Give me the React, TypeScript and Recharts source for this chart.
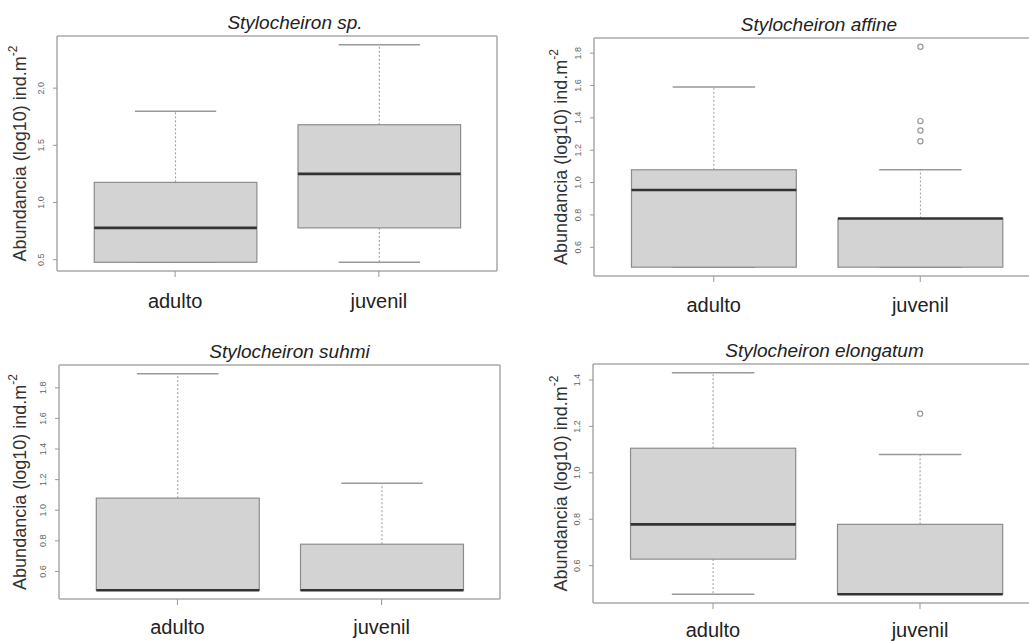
import { ComposedChart, Bar, XAxis, YAxis } from 'recharts';

const groups = ['adulto', 'juvenil'];

// [min, q1, median, q3, max] per group (log10 ind.m-2)
const spAdulto = [0.477, 0.477, 0.778, 1.176, 1.799];
const spJuvenil = [0.477, 0.778, 1.25, 1.68, 2.38];
const affineAdulto = [0.477, 0.477, 0.954, 1.079, 1.591];
const affineJuvenil = [0.477, 0.477, 0.778, 0.778, 1.079];
const affineJuvenilOut = [1.839, 1.38, 1.322, 1.255];
const suhmiAdulto = [0.477, 0.477, 0.477, 1.079, 1.892];
const suhmiJuvenil = [0.477, 0.477, 0.477, 0.778, 1.176];
const elongAdulto = [0.477, 0.628, 0.778, 1.106, 1.431];
const elongJuvenil = [0.477, 0.477, 0.477, 0.778, 1.079];
const elongJuvenilOut = [1.255];

const spTicks = [0.5, 1.0, 1.5, 2.0];
const affineTicks = [0.6, 0.8, 1.0, 1.2, 1.4, 1.6, 1.8];
const suhmiTicks = [0.6, 0.8, 1.0, 1.2, 1.4, 1.6, 1.8];
const elongTicks = [0.6, 0.8, 1.0, 1.2, 1.4];

const FONT = '"Liberation Sans", Arial, sans-serif';
const FRAME = '#a9a9a9';

function BoxShape(props: any) {
  const { x, y, width, height, payload } = props;
  const [mn, q1, md, q3, mx] = payload.stats;
  const k = height / (mx - mn);
  const py = (v: number) => y + (mx - v) * k;
  const cx = x + width / 2;
  const cap = width / 4;
  return (
    <g>
      <line x1={cx} x2={cx} y1={py(q3)} y2={py(mx)} stroke="#999" strokeDasharray="2 2" />
      <line x1={cx} x2={cx} y1={py(q1)} y2={py(mn)} stroke="#999" strokeDasharray="2 2" />
      <line x1={cx - cap} x2={cx + cap} y1={py(mx)} y2={py(mx)} stroke="#999" strokeWidth={1.5} />
      <line x1={cx - cap} x2={cx + cap} y1={py(mn)} y2={py(mn)} stroke="#999" strokeWidth={1.5} />
      <rect x={x} y={py(q3)} width={width} height={py(q1) - py(q3)} fill="#d3d3d3" stroke="#8c8c8c" strokeWidth={1.2} />
      <line x1={x} x2={x + width} y1={py(md)} y2={py(md)} stroke="#333" strokeWidth={2.6} />
      {payload.out.map((v: number, i: number) => (
        <circle key={i} cx={cx} cy={py(v)} r={2.6} fill="none" stroke="#999" strokeWidth={1.2} />
      ))}
    </g>
  );
}

function YTick({ x, y, payload }: any) {
  return (
    <text x={x} y={y} transform={`rotate(-90 ${x} ${y})`} textAnchor="middle" fontSize={9} fill="#666" fontFamily={FONT}>
      {Number(payload.value).toFixed(1)}
    </text>
  );
}

function XTick({ x, y, payload, catDy }: any) {
  return (
    <text x={x} y={y - 6 + catDy} textAnchor="middle" fontSize={20} fill="#222" fontFamily={FONT}>
      {payload.value}
    </text>
  );
}

function YTitle({ viewBox, labelX }: any) {
  const cy = viewBox.y + viewBox.height / 2;
  return (
    <text x={labelX} y={cy} transform={`rotate(-90 ${labelX} ${cy})`} textAnchor="middle" dominantBaseline="central" fontSize={18} fill="#333" fontFamily={FONT}>
      Abundancia (log10) ind.m
      <tspan fontSize={12} dy={-7}>-2</tspan>
    </text>
  );
}

function PanelTitle({ viewBox, text, shift }: any) {
  return (
    <text x={viewBox.x + viewBox.width / 2 + shift} y={viewBox.y + viewBox.height - 7} textAnchor="middle" fontSize={19} fontStyle="italic" fill="#222" fontFamily={FONT}>
      {text}
    </text>
  );
}

function Panel(p: any) {
  const W = p.width - p.margin.left - p.margin.right - p.axisWidth - 1;
  const pad = W / 27;
  const barSize = (10 * W) / 27;
  const rows = groups.map((g, i) => ({
    group: g,
    stats: i === 0 ? p.adulto : p.juvenil,
    out: i === 0 ? p.outAdulto : p.outJuvenil,
  }));
  const margin = { ...p.margin, top: p.margin.top - 1, right: p.margin.right - 1 };
  return (
    <div style={{ position: 'absolute', left: p.left, top: p.top }}>
      <ComposedChart width={p.width} height={p.height} data={rows} margin={margin}>
        <XAxis
          dataKey="group"
          padding={{ left: pad, right: pad }}
          height={30}
          tickSize={6}
          tickMargin={0}
          axisLine={{ stroke: FRAME, strokeWidth: 1.5 }}
          tickLine={{ stroke: '#999' }}
          tick={<XTick catDy={p.catDy} />}
          interval={0}
        />
        <XAxis
          xAxisId="top"
          dataKey="group"
          orientation="top"
          height={1}
          tick={false}
          tickLine={false}
          axisLine={{ stroke: FRAME, strokeWidth: 1.5 }}
          label={<PanelTitle text={p.title} shift={p.titleShift} />}
        />
        <YAxis
          type="number"
          domain={p.domain}
          ticks={p.ticks}
          interval={0}
          width={p.axisWidth}
          tickSize={4}
          tickMargin={9}
          axisLine={{ stroke: FRAME, strokeWidth: 1.5 }}
          tickLine={{ stroke: '#999' }}
          tick={<YTick />}
          label={<YTitle labelX={p.labelX} />}
        />
        <YAxis
          yAxisId="right"
          orientation="right"
          type="number"
          domain={p.domain}
          width={1}
          tick={false}
          tickLine={false}
          axisLine={{ stroke: FRAME, strokeWidth: 1.5 }}
        />
        <Bar
          dataKey={(d: any) => [d.stats[0], d.stats[4]]}
          barSize={barSize}
          shape={(s: any) => <BoxShape {...s} />}
          isAnimationActive={false}
        />
      </ComposedChart>
    </div>
  );
}

export default function App() {
  return (
    <div style={{ position: 'absolute', left: 0, top: 0, width: 1029, height: 641, overflow: 'hidden', background: '#fff' }}>
      <Panel
        title="Stylocheiron sp."
        adulto={spAdulto}
        juvenil={spJuvenil}
        outAdulto={[]}
        outJuvenil={[]}
        ticks={spTicks}
        domain={[0.401, 2.456]}
        left={0}
        top={0}
        width={510}
        height={320}
        margin={{ top: 36, right: 13, bottom: 19, left: 0 }}
        axisWidth={57}
        labelX={20}
        catDy={37}
        titleShift={18}
      />
      <Panel
        title="Stylocheiron affine"
        adulto={affineAdulto}
        juvenil={affineJuvenil}
        outAdulto={[]}
        outJuvenil={affineJuvenilOut}
        ticks={affineTicks}
        domain={[0.4225, 1.8935]}
        left={510}
        top={0}
        width={545}
        height={320}
        margin={{ top: 38, right: 15, bottom: 14, left: 0 }}
        axisWidth={84}
        labelX={51}
        catDy={36}
        titleShift={2}
      />
      <Panel
        title="Stylocheiron suhmi"
        adulto={suhmiAdulto}
        juvenil={suhmiJuvenil}
        outAdulto={[]}
        outJuvenil={[]}
        ticks={suhmiTicks}
        domain={[0.42, 1.949]}
        left={0}
        top={320}
        width={510}
        height={321}
        margin={{ top: 45, right: 10, bottom: 12, left: 0 }}
        axisWidth={59}
        labelX={20}
        catDy={35}
        titleShift={10}
      />
      <Panel
        title="Stylocheiron elongatum"
        adulto={elongAdulto}
        juvenil={elongJuvenil}
        outAdulto={[]}
        outJuvenil={elongJuvenilOut}
        ticks={elongTicks}
        domain={[0.439, 1.469]}
        left={510}
        top={320}
        width={545}
        height={321}
        margin={{ top: 44, right: 15, bottom: 8, left: 0 }}
        axisWidth={83}
        labelX={51}
        catDy={34}
        titleShift={8}
      />
    </div>
  );
}
